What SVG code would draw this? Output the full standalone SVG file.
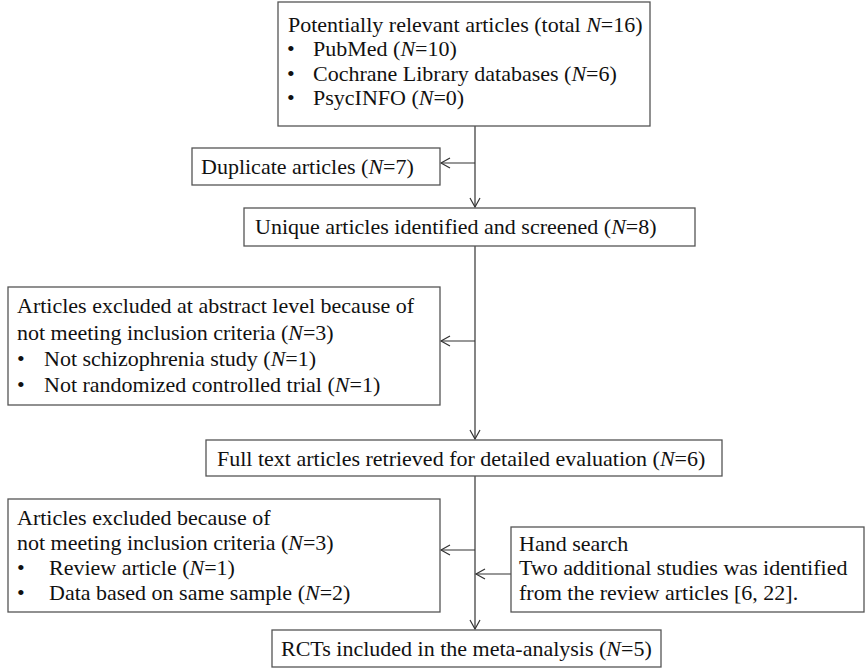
<svg xmlns="http://www.w3.org/2000/svg" width="867" height="668" viewBox="0 0 867 668">
<style>
.box{fill:#fff;stroke:#555;stroke-width:1.3}
.t{font-family:"Liberation Serif","Times New Roman",serif;font-size:22px;fill:#111}
.c{text-anchor:middle}
.i{font-style:italic}
.ln{stroke:#333;stroke-width:1.2;fill:none}
</style>
<defs>
<marker id="ah" markerWidth="12" markerHeight="12" refX="10" refY="6" orient="auto" markerUnits="userSpaceOnUse">
<path d="M1,1 L10,6 L1,11" fill="none" stroke="#333" stroke-width="1.2"/>
</marker>
</defs>
<rect width="867" height="668" fill="#fff"/>
<g id="connectors">
<line class="ln" x1="475" y1="126" x2="475" y2="207" marker-end="url(#ah)"/>
<line class="ln" x1="475" y1="163" x2="441" y2="163" marker-end="url(#ah)"/>
<line class="ln" x1="475" y1="246" x2="475" y2="439" marker-end="url(#ah)"/>
<line class="ln" x1="475" y1="341" x2="441" y2="341" marker-end="url(#ah)"/>
<line class="ln" x1="475" y1="476" x2="475" y2="629" marker-end="url(#ah)"/>
<line class="ln" x1="475" y1="550" x2="441" y2="550" marker-end="url(#ah)"/>
<line class="ln" x1="511" y1="574" x2="476" y2="574" marker-end="url(#ah)"/>
</g>
<g id="n1">
<rect class="box" x="278" y="2" width="372" height="124"/>
<text class="t" x="288" y="32">Potentially relevant articles (total <tspan class="i">N</tspan>=16)</text>
<text class="t" x="287" y="56">•</text><text class="t" x="313" y="56">PubMed (<tspan class="i">N</tspan>=10)</text>
<text class="t" x="287" y="81">•</text><text class="t" x="313" y="81">Cochrane Library databases (<tspan class="i">N</tspan>=6)</text>
<text class="t" x="287" y="105">•</text><text class="t" x="313" y="105">PsycINFO (<tspan class="i">N</tspan>=0)</text>
</g>
<g id="n2">
<rect class="box" x="192" y="148" width="248" height="37"/>
<text class="t" x="201" y="174">Duplicate articles (<tspan class="i">N</tspan>=7)</text>
</g>
<g id="n3">
<rect class="box" x="244" y="208" width="451" height="38"/>
<text class="t" x="255" y="234">Unique articles identified and screened (<tspan class="i">N</tspan>=8)</text>
</g>
<g id="n4">
<rect class="box" x="8" y="287" width="432" height="118"/>
<text class="t" x="17" y="313">Articles excluded at abstract level because of</text>
<text class="t" x="17" y="340">not meeting inclusion criteria (<tspan class="i">N</tspan>=3)</text>
<text class="t" x="17" y="366">•</text><text class="t" x="44" y="366">Not schizophrenia study (<tspan class="i">N</tspan>=1)</text>
<text class="t" x="17" y="392">•</text><text class="t" x="44" y="392">Not randomized controlled trial (<tspan class="i">N</tspan>=1)</text>
</g>
<g id="n5">
<rect class="box" x="206" y="440" width="516" height="36"/>
<text class="t" x="217" y="466">Full text articles retrieved for detailed evaluation (<tspan class="i">N</tspan>=6)</text>
</g>
<g id="n6">
<rect class="box" x="8" y="499" width="432" height="113"/>
<text class="t" x="17" y="525">Articles excluded because of</text>
<text class="t" x="17" y="550">not meeting inclusion criteria (<tspan class="i">N</tspan>=3)</text>
<text class="t" x="17" y="575">•</text><text class="t" x="49" y="575">Review article (<tspan class="i">N</tspan>=1)</text>
<text class="t" x="17" y="600">•</text><text class="t" x="49" y="600">Data based on same sample (<tspan class="i">N</tspan>=2)</text>
</g>
<g id="n7">
<rect class="box" x="511" y="527" width="353" height="85"/>
<text class="t" x="519" y="551">Hand search</text>
<text class="t" x="519" y="575">Two additional studies was identified</text>
<text class="t" x="519" y="600">from the review articles [6, 22].</text>
</g>
<g id="n8">
<rect class="box" x="272" y="630" width="389" height="37"/>
<text class="t" x="281" y="656">RCTs included in the meta-analysis (<tspan class="i">N</tspan>=5)</text>
</g>
</svg>
